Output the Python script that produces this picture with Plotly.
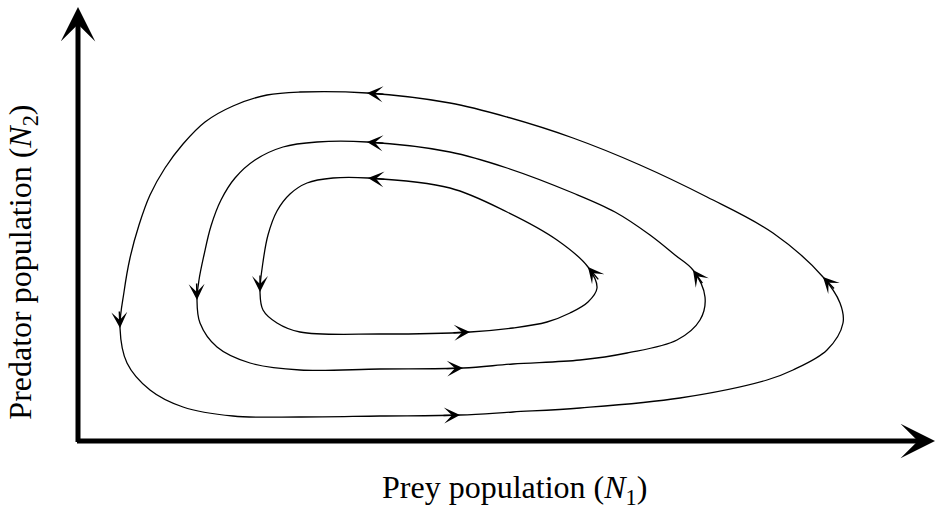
import numpy as np
import plotly.graph_objects as go

# Closed predator-prey orbits (prey N1, predator N2), traced counterclockwise
outer_n1 = [372, 289, 222, 189, 155, 127, 105, 87, 72, 61, 52, 46, 42, 49, 72, 105, 155, 222,
            302, 382, 435, 502, 602, 689, 715, 749, 765, 762, 745, 695, 629, 562, 495, 429]
outer_n2 = [338, 348, 349, 346, 335, 319, 297, 273, 246, 216, 183, 149, 113, 78, 51, 34, 25, 24,
            25, 26, 29, 33, 43, 61, 71, 91, 118, 138, 164, 208, 244, 276, 303, 324]

middle_n1 = [372, 289, 239, 205, 177, 157, 143, 133, 126, 121, 119, 122, 139, 172, 222, 302,
             385, 435, 502, 549, 599, 622, 627, 615, 597, 572, 537, 495, 429]
middle_n2 = [289, 299, 299, 294, 281, 263, 241, 215, 186, 161, 141, 118, 94, 78, 71, 72,
             73, 77, 81, 88, 101, 121, 144, 171, 186, 206, 229, 248, 273]

inner_n1 = [372, 290, 255, 229, 212, 199, 190, 185, 182, 185, 199, 222, 302, 392, 435, 469,
            492, 510, 519, 510, 479, 429]
inner_n2 = [253, 263, 263, 258, 247, 230, 206, 179, 149, 131, 118, 109, 107, 109, 113, 119,
            128, 139, 153, 174, 201, 229]

# Points along each orbit where a direction arrow is placed
outer_arrows = [1, 12, 19, 28]
middle_arrows = [1, 10, 16, 23]
inner_arrows = [1, 8, 13, 19]

orbits = [
    (outer_n1, outer_n2, outer_arrows),
    (middle_n1, middle_n2, middle_arrows),
    (inner_n1, inner_n2, inner_arrows),
]

X_MAX, Y_MAX = 857, 434

fig = go.Figure()
annotations = []

for xs, ys, arrow_idx in orbits:
    cx = list(xs) + [xs[0]]
    cy = list(ys) + [ys[0]]
    fig.add_trace(go.Scatter(
        x=cx, y=cy, mode="lines",
        line=dict(color="black", width=1.3, shape="spline", smoothing=1.0),
        hoverinfo="skip", showlegend=False,
    ))
    n = len(xs)
    for i in arrow_idx:
        prev_pt = np.array([xs[(i - 1) % n], ys[(i - 1) % n]], dtype=float)
        next_pt = np.array([xs[(i + 1) % n], ys[(i + 1) % n]], dtype=float)
        d = next_pt - prev_pt
        d /= np.linalg.norm(d)
        tail = np.array([xs[i], ys[i]], dtype=float) - d * 18
        annotations.append(dict(
            x=xs[i], y=ys[i], ax=tail[0], ay=tail[1],
            xref="x", yref="y", axref="x", ayref="y",
            text="", showarrow=True, arrowhead=3, arrowsize=1.9,
            arrowwidth=1.4, arrowcolor="black", standoff=0,
        ))

# Axis arrows
annotations.append(dict(
    x=X_MAX, y=0, ax=-2.5, ay=0, xref="x", yref="y", axref="x", ayref="y",
    text="", showarrow=True, arrowhead=3, arrowsize=1.15, arrowwidth=5,
    arrowcolor="black", standoff=0,
))
annotations.append(dict(
    x=0, y=Y_MAX, ax=0, ay=-2.5, xref="x", yref="y", axref="x", ayref="y",
    text="", showarrow=True, arrowhead=3, arrowsize=1.15, arrowwidth=5,
    arrowcolor="black", standoff=0,
))

label_font = dict(family="Liberation Serif, Times New Roman, serif", size=32, color="black")
annotations.append(dict(
    x=0.55, y=0.0, xref="paper", yref="paper", xanchor="center", yanchor="bottom",
    text="Prey population (<i>N</i><sub>1</sub>)", showarrow=False, font=label_font,
))
annotations.append(dict(
    x=0.0, y=0.488, xref="paper", yref="paper", xanchor="left", yanchor="middle",
    text="Predator population (<i>N</i><sub>2</sub>)", showarrow=False,
    textangle=-90, font=label_font,
))

fig.update_layout(
    width=935, height=512,
    margin=dict(l=0, r=0, t=0, b=0),
    paper_bgcolor="white", plot_bgcolor="white",
    xaxis=dict(range=[-78, 857], visible=False, fixedrange=True),
    yaxis=dict(range=[-71, 441], visible=False, fixedrange=True),
    annotations=annotations,
)

fig.write_html("out.html")
